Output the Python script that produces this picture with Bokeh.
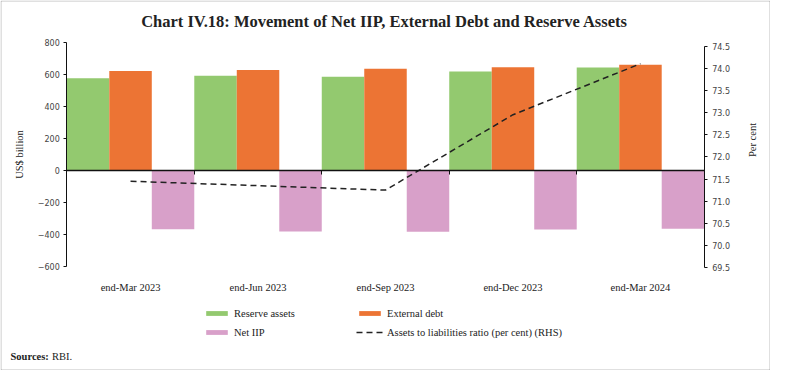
import math
import numpy as np
from bokeh.plotting import figure
from bokeh.models import (Range1d, LinearAxis, FixedTicker, Label, Legend, LegendItem,
                          BoxAnnotation, ColumnDataSource, NumeralTickFormatter)
from bokeh.embed import file_html
from bokeh.resources import INLINE

# ---------------- data ----------------
categories = ["end-Mar 2023", "end-Jun 2023", "end-Sep 2023", "end-Dec 2023", "end-Mar 2024"]
reserve_assets = [579, 595, 588, 621, 646]
external_debt = [624, 630, 638, 647, 664]
net_iip = [-366, -380, -382, -368, -362]
ratio = [71.45, 71.35, 71.25, 72.95, 74.1]
left_ticks = [-600, -400, -200, 0, 200, 400, 600, 800]
right_ticks = [69.5, 70.0, 70.5, 71.0, 71.5, 72.0, 72.5, 73.0, 73.5, 74.0, 74.5]
title_text = "Chart IV.18: Movement of Net IIP, External Debt and Reserve Assets"
source_note = "Sources:"
source_name = "RBI."

# ---------------- styles / layout (pixels) ----------------
GREEN = "#93C96F"
ORANGE = "#EC7434"
PINK = "#D8A0C9"
SERIF = "Liberation Serif"
SANS = "DejaVu Sans"
TXT = "#222222"

W, H = 770, 370
PL, PR = 66.3, 703.7        # plot-area left/right (canvas px)
PT, PB = 42.4, 266.2        # canvas px of 800 / -600
R_TOP_PX, R_BOT_PX = 45.5, 267.2   # canvas px of 74.5 / 69.5 on right axis

n = len(categories)
L_MIN, L_MAX = left_ticks[0], left_ticks[-1]
R_MIN, R_MAX = right_ticks[0], right_ticks[-1]

# ranges chosen so that the frame spans the whole canvas
ux = n / (PR - PL)
uy = (L_MAX - L_MIN) / (PB - PT)
ur = (R_MAX - R_MIN) / (R_BOT_PX - R_TOP_PX)
x_range = Range1d(-PL * ux, n + (W - PR) * ux)
y_range = Range1d(L_MIN - (H - PB) * uy, L_MAX + PT * uy)
r_range = Range1d(R_MIN - (H - R_BOT_PX) * ur, R_MAX + R_TOP_PX * ur)

idx = np.arange(n)
src = ColumnDataSource(dict(
    x_res=idx + 1 / 6, x_ed=idx + 0.5, x_iip=idx + 5 / 6, x_mid=idx + 0.5,
    res=reserve_assets, ed=external_debt, iip=net_iip, ratio=ratio,
))

p = figure(width=W, height=H, output_backend="svg", toolbar_location=None,
           x_range=x_range, y_range=y_range,
           x_axis_location=None, y_axis_location=None, min_border=0)
p.title.visible = False
p.grid.visible = False
p.outline_line_color = None
p.background_fill_color = "white"
p.border_fill_color = "white"
p.extra_y_ranges = {"pct": r_range}

r_res = p.vbar(x="x_res", top="res", bottom=0, width=1 / 3, source=src,
               fill_color=GREEN, line_color=None)
r_ed = p.vbar(x="x_ed", top="ed", bottom=0, width=1 / 3, source=src,
              fill_color=ORANGE, line_color=None)
r_iip = p.vbar(x="x_iip", top=0, bottom="iip", width=1 / 3, source=src,
               fill_color=PINK, line_color=None)
r_line = p.line(x="x_mid", y="ratio", source=src, y_range_name="pct",
                line_color="#222222", line_width=1.5, line_dash="6 4")


def style_y(ax):
    ax.axis_label_text_font = SERIF
    ax.axis_label_text_font_style = "normal"
    ax.axis_label_text_font_size = "10.5px"
    ax.axis_label_text_color = TXT
    ax.major_tick_in = 0
    ax.major_tick_out = 3
    ax.minor_tick_line_color = None
    ax.major_label_text_font = SANS
    ax.major_label_text_font_size = "8px"
    ax.major_label_text_color = "#444444"
    ax.axis_line_color = "#111111"
    ax.major_tick_line_color = "#111111"


# left axis
ya = LinearAxis(ticker=FixedTicker(ticks=left_ticks), bounds=(L_MIN, L_MAX),
                fixed_location=0, axis_label="US$ billion")
style_y(ya)
ya.axis_label_standoff = 10
ya.major_label_standoff = 4
p.add_layout(ya, "left")

# right axis
ra = LinearAxis(y_range_name="pct", ticker=FixedTicker(ticks=right_ticks),
                formatter=NumeralTickFormatter(format="0.0"), bounds=(R_MIN, R_MAX),
                fixed_location=n, axis_label="Per cent")
style_y(ra)
ra.axis_label_orientation = math.pi / 2
ra.axis_label_standoff = 19
ra.major_label_standoff = 5
p.add_layout(ra, "right")

# category labels axis (bottom)
centers = [float(i) + 0.5 for i in idx]
overrides = {}
for c, lab in zip(centers, categories):
    overrides[c] = lab
    overrides[str(c)] = lab
la = LinearAxis(ticker=FixedTicker(ticks=centers), major_label_overrides=overrides,
                fixed_location=L_MIN)
la.axis_line_color = None
la.major_tick_line_color = None
la.minor_tick_line_color = None
la.major_label_standoff = 9
la.major_label_text_font = SERIF
la.major_label_text_font_size = "10.5px"
la.major_label_text_color = TXT
p.add_layout(la, "below")

# zero line axis with category boundary ticks
za = LinearAxis(ticker=FixedTicker(ticks=[float(i) for i in range(n + 1)]),
                fixed_location=0, bounds=(0, n))
za.major_label_text_font_size = "0px"
za.major_label_text_alpha = 0
za.major_tick_in = 0
za.major_tick_out = 4
za.minor_tick_line_color = None
za.axis_line_color = "#111111"
za.axis_line_width = 1.3
za.major_tick_line_color = "#111111"
p.add_layout(za, "below")

# legends (two columns), screen units measured from bottom-left of canvas
leg_kw = dict(orientation="vertical", glyph_width=27, glyph_height=6, label_standoff=4,
              label_height=14, spacing=5, padding=0, margin=0, border_line_color=None,
              background_fill_alpha=0, label_text_font=SERIF, label_text_font_size="10.5px",
              label_text_color=TXT)
leg1 = Legend(items=[LegendItem(label="Reserve assets", renderers=[r_res]),
                     LegendItem(label="Net IIP", renderers=[r_iip])],
              location=(203, 31), **leg_kw)
leg2 = Legend(items=[LegendItem(label="External debt", renderers=[r_ed]),
                     LegendItem(label="Assets to liabilities ratio (per cent) (RHS)", renderers=[r_line])],
              location=(356, 31), **leg_kw)
p.add_layout(leg1, "center")
p.add_layout(leg2, "center")

# title
p.add_layout(Label(x=384, y=H - 20.6, x_units="screen", y_units="screen", text=title_text,
                   text_align="center", text_baseline="middle", text_font=SERIF,
                   text_font_size="16.5px", text_font_style="bold", text_color=TXT))

# sources
p.add_layout(Label(x=10, y=H - 356, x_units="screen", y_units="screen", text=source_note,
                   text_align="left", text_baseline="middle", text_font=SERIF,
                   text_font_size="10.5px", text_font_style="bold", text_color=TXT))
p.add_layout(Label(x=51.5, y=H - 356, x_units="screen", y_units="screen", text=source_name,
                   text_align="left", text_baseline="middle", text_font=SERIF,
                   text_font_size="10.5px", text_color=TXT))

# outer border
p.add_layout(BoxAnnotation(left=0.5, right=W - 0.5, top=H - 0.5, bottom=0.5,
                           left_units="screen", right_units="screen", top_units="screen",
                           bottom_units="screen", fill_alpha=0, line_color="#333333",
                           line_width=1))

open("out.html", "w").write(file_html(p, INLINE))
